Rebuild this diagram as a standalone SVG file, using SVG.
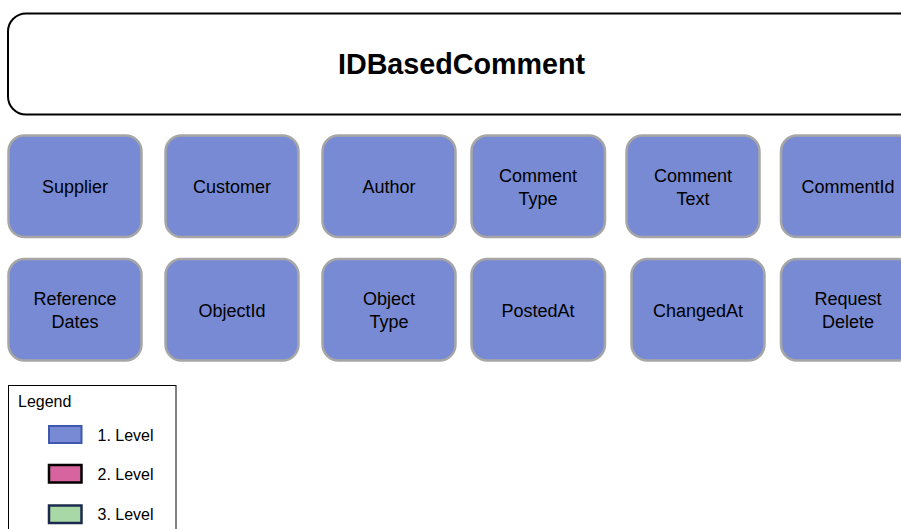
<svg xmlns="http://www.w3.org/2000/svg" width="901" height="529" viewBox="0 0 901 529">
<style>
text{font-family:"Liberation Sans",Arial,sans-serif;fill:#000}
.n rect{fill:#778AD3;stroke:#A6A6A6;stroke-width:2.5}
.n text{font-size:18px;text-anchor:middle}
.lg{font-size:16px}
</style>
<rect width="901" height="529" fill="#fff"/>
<g id="root">
<rect x="8" y="13.5" width="910" height="101" rx="18" fill="#fff" stroke="#000" stroke-width="2"/>
<text x="461.5" y="74" font-size="28.7" font-weight="bold" text-anchor="middle">IDBasedComment</text>
</g>
<g id="connectors"></g>
<g id="supplier" class="n"><rect x="8.5" y="135.5" width="133" height="101.5" rx="16"/><text x="75" y="193">Supplier</text></g>
<g id="customer" class="n"><rect x="165.5" y="135.5" width="133" height="101.5" rx="16"/><text x="232" y="193">Customer</text></g>
<g id="author" class="n"><rect x="322.5" y="135.5" width="133" height="101.5" rx="16"/><text x="389" y="193">Author</text></g>
<g id="commentType" class="n"><rect x="471.5" y="135.5" width="133.5" height="101.5" rx="16"/><text x="538" y="182">Comment</text><text x="538" y="205">Type</text></g>
<g id="commentText" class="n"><rect x="626.5" y="135.5" width="133" height="101.5" rx="16"/><text x="693" y="182">Comment</text><text x="693" y="205">Text</text></g>
<g id="commentId" class="n"><rect x="781" y="135.5" width="133" height="101.5" rx="16"/><text x="848" y="193">CommentId</text></g>
<g id="referenceDates" class="n"><rect x="8.5" y="259" width="133" height="101.5" rx="16"/><text x="75" y="305">Reference</text><text x="75" y="328">Dates</text></g>
<g id="objectId" class="n"><rect x="165.5" y="259" width="133" height="101.5" rx="16"/><text x="232" y="317">ObjectId</text></g>
<g id="objectType" class="n"><rect x="322.5" y="259" width="133" height="101.5" rx="16"/><text x="389" y="305">Object</text><text x="389" y="328">Type</text></g>
<g id="postedAt" class="n"><rect x="471.5" y="259" width="133.5" height="101.5" rx="16"/><text x="538" y="317">PostedAt</text></g>
<g id="changedAt" class="n"><rect x="631.5" y="259" width="133" height="101.5" rx="16"/><text x="698" y="317">ChangedAt</text></g>
<g id="requestDelete" class="n"><rect x="781" y="259" width="133" height="101.5" rx="16"/><text x="848" y="305">Request</text><text x="848" y="328">Delete</text></g>
<g id="legend">
<rect x="8.5" y="385.5" width="167.5" height="150" fill="#fff" stroke="#000" stroke-width="1"/>
<text class="lg" x="18" y="407" font-size="15.5">Legend</text>
<rect x="49" y="426" width="32.5" height="17" fill="#778AD3" stroke="#3F57AE" stroke-width="2"/>
<text class="lg" x="97.5" y="441">1. Level</text>
<rect x="49" y="465" width="32.5" height="17.5" fill="#D8649F" stroke="#000" stroke-width="2.5"/>
<text class="lg" x="97.5" y="480">2. Level</text>
<rect x="49" y="505.5" width="32.5" height="17.5" fill="#A8D8A6" stroke="#1C2A4E" stroke-width="2.5"/>
<text class="lg" x="97.5" y="520">3. Level</text>
</g>
</svg>
